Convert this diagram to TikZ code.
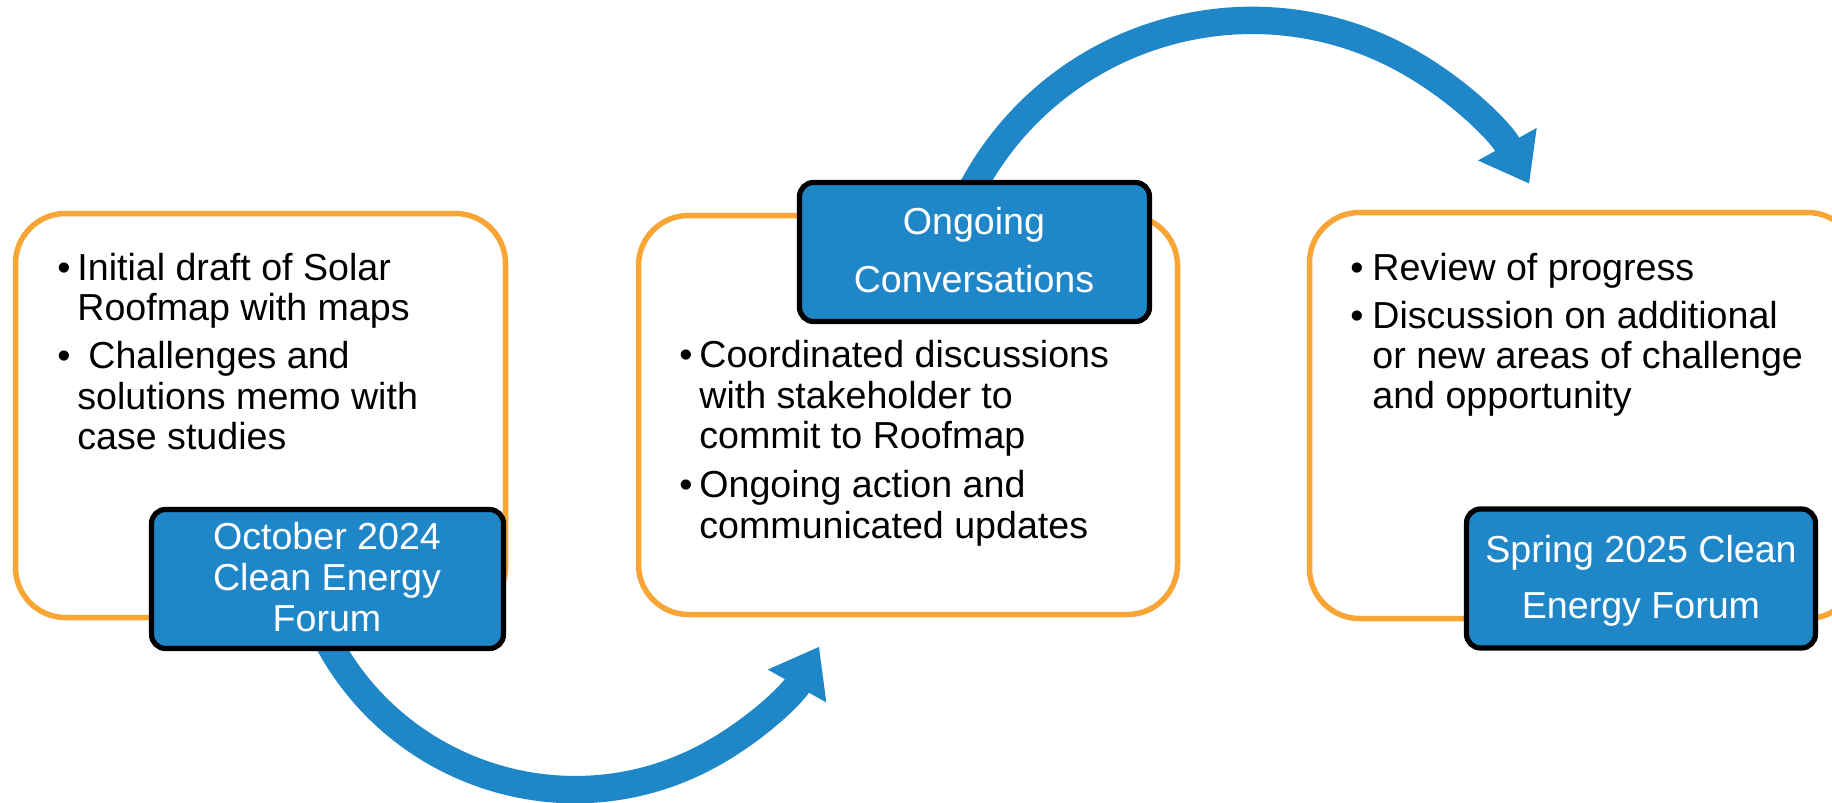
\documentclass[tikz,border=0pt]{standalone}
\usepackage{fontspec}
\setmainfont{Liberation Sans}
\usetikzlibrary{arrows.meta}
\definecolor{orangeC}{RGB}{248,165,53}
\definecolor{blueC}{RGB}{31,135,200}
\newcommand{\bodyfont}{\fontsize{18.8pt}{20pt}\selectfont}
\newcommand{\boxfont}{\fontsize{18.8pt}{21pt}\selectfont}
\tikzset{
  obox/.style={draw=orangeC, line width=2.75pt, fill=white, rounded corners=25pt, inner sep=0pt},
  bbox/.style={draw=black, line width=2.6pt, fill=blueC, rounded corners=7pt, inner sep=0pt},
  body/.style={anchor=base west, inner sep=0pt, font=\bodyfont},
  bul/.style={anchor=base, inner sep=0pt, font=\bodyfont},
  btxt/.style={anchor=base, inner sep=0pt, text=white, font=\boxfont},
  flow/.style={draw=blueC, line width=13.7pt, -{Triangle[length=22.6pt,width=32pt]}}
}
\begin{document}
\begin{tikzpicture}[x=0.5pt,y=-0.5pt]
\useasboundingbox (0,0) rectangle (1832,803);
\clip (0,0) rectangle (1832,803);
\fill[white] (0,0) rectangle (1832,803);

% orange content boxes
\node[obox, minimum width=245pt, minimum height=202pt] (left) at (260.5,415.5) {};
\node[obox, minimum width=269.5pt, minimum height=199.5pt] (mid) at (908,415) {};
\node[obox, minimum width=274pt, minimum height=203pt] (right) at (1583.5,415.5) {};

% connector coordinates
\coordinate (a1s) at (325.5,636.7);
\coordinate (a2s) at (972.1,188.6);

% curved arrows
\draw[flow] (a1s) arc[start angle=207, end angle=330.7, radius=140pt];
\draw[flow] (a2s) arc[start angle=152, end angle=29, radius=158.5pt];

% blue title boxes
\node[bbox, minimum width=176pt, minimum height=69.5pt] (oct) at (327.5,579) {};
\node[bbox, minimum width=175pt, minimum height=69.5pt] (conv) at (974.5,252) {};
\node[bbox, minimum width=174.5pt, minimum height=69.5pt] (spring) at (1641,578.5) {};

% blue box texts
\node[btxt] (oct1) at (327,549) {October 2024};
\node[btxt] (oct2) at (327,590) {Clean Energy};
\node[btxt] (oct3) at (327,631) {Forum};
\node[btxt] (conv1) at (974,234) {Ongoing};
\node[btxt] (conv2) at (974,292.5) {Conversations};
\node[btxt] (spr1) at (1641,562.7) {Spring 2025 Clean};
\node[btxt] (spr2) at (1641,618.3) {Energy Forum};

% left bullets
\node[bul] (lb1) at (64,280) {•};
\node[body] (l1) at (77,280) {Initial draft of Solar};
\node[body] (l2) at (77,320) {Roofmap with maps};
\node[bul] (lb2) at (64,368) {•};
\node[body] (l3) at (88,368) {Challenges and};
\node[body] (l4) at (77,409) {solutions memo with};
\node[body] (l5) at (77,449) {case studies};

% middle bullets
\node[bul] (mb1) at (686,367) {•};
\node[body] (m1) at (699,367) {Coordinated discussions};
\node[body] (m2) at (699,408) {with stakeholder to};
\node[body] (m3) at (699,448) {commit to Roofmap};
\node[bul] (mb2) at (686,497) {•};
\node[body] (m4) at (699,497) {Ongoing action and};
\node[body] (m5) at (699,538) {communicated updates};

% right bullets
\node[bul] (rb1) at (1357,280) {•};
\node[body] (r1) at (1372,280) {Review of progress};
\node[bul] (rb2) at (1357,328) {•};
\node[body] (r2) at (1372,328) {Discussion on additional};
\node[body] (r3) at (1372,368) {or new areas of challenge};
\node[body] (r4) at (1372,408) {and opportunity};
\end{tikzpicture}
\end{document}
